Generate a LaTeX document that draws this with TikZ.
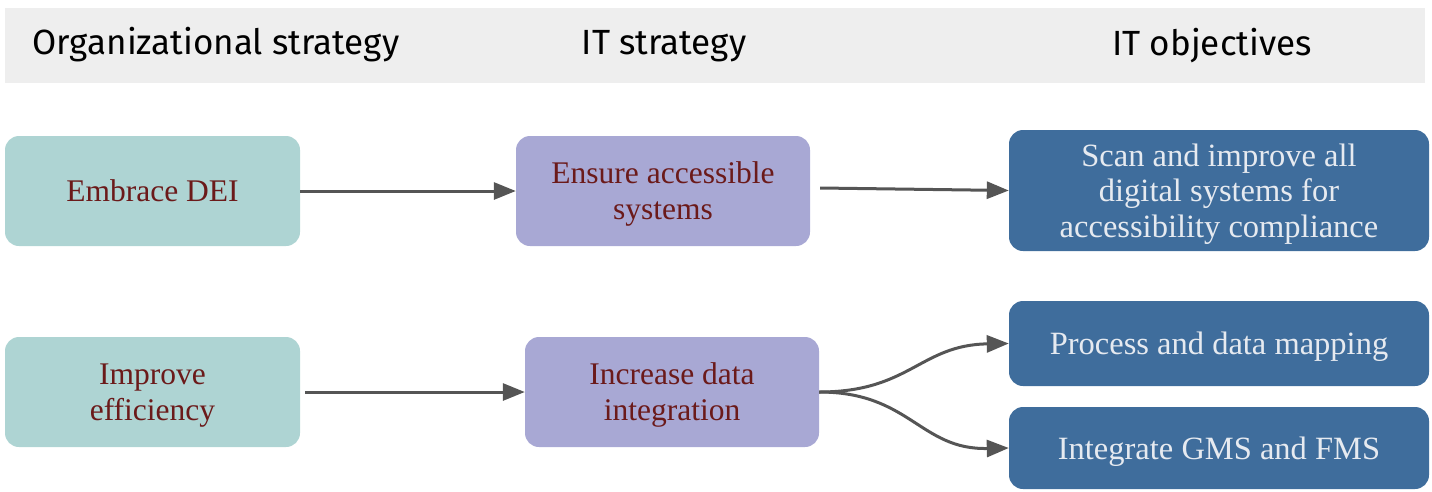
\documentclass[tikz,border=0pt]{standalone}
\usepackage{fontspec}
\setmainfont{Liberation Serif}
\newfontfamily\hdrfont{Fira Sans}
\usetikzlibrary{arrows.meta}
\definecolor{hdrbg}{HTML}{EEEEEE}
\definecolor{teal}{HTML}{AED4D3}
\definecolor{lav}{HTML}{A8A8D4}
\definecolor{blu}{HTML}{3F6D9C}
\definecolor{darkred}{HTML}{6B1A1A}
\definecolor{lighttxt}{HTML}{E6EAF0}
\definecolor{arr}{HTML}{555555}
\tikzset{
  x=1pt,y=-1pt,
  box/.style={rounded corners=14pt,inner sep=0pt,align=center,text depth=0pt,font=\fontsize{31.5}{36}\selectfont},
  orgbox/.style={box,fill=teal,text=darkred},
  itbox/.style={box,fill=lav,text=darkred},
  objbox/.style={box,fill=blu,text=lighttxt,font=\fontsize{32.5}{35.5}\selectfont},
  hdr/.style={font=\hdrfont\fontsize{35}{40}\selectfont,text=black,inner sep=0pt},
  conn/.style={draw=arr,line width=3pt,-{Triangle[length=22pt,width=17pt]}}
}
\begin{document}
\begin{tikzpicture}
\useasboundingbox (0,0) rectangle (1432,491);
\fill[hdrbg] (5,8) rectangle (1425,83);
\node[hdr] (h1) at (216,45) {Organizational strategy};
\node[hdr] (h2) at (664,46) {IT strategy};
\node[hdr] (h3) at (1212,46) {IT objectives};

\node[orgbox,minimum width=295pt,minimum height=110pt] (dei) at (152.5,191) {Embrace DEI};
\node[itbox,minimum width=294pt,minimum height=110pt] (acc) at (663,191) {Ensure accessible\\systems};
\node[objbox,minimum width=420pt,minimum height=121pt] (scan) at (1219,190.5) {Scan and improve all\\digital systems for\\accessibility compliance};

\node[orgbox,minimum width=295pt,minimum height=110pt] (eff) at (152.5,392) {Improve\\efficiency};
\node[itbox,minimum width=294pt,minimum height=110pt] (int) at (672,392) {Increase data\\integration};
\node[objbox,minimum width=420pt,minimum height=85pt] (map) at (1219,343.5) {Process and data mapping};
\node[objbox,minimum width=420pt,minimum height=82pt] (gms) at (1219,448) {Integrate GMS and FMS};

\draw[conn] (dei.east) -- (acc.west);
\draw[conn] (acc.east) ++(10,-3) coordinate (a1) -- (scan.west);
\draw[conn] (eff.east) ++(5,0) -- (int.west);
\draw[conn] (int.east) .. controls (910,392) and (920,345) .. (map.west);
\draw[conn] (int.east) .. controls (910,392) and (920,450) .. (gms.west);
\end{tikzpicture}
\end{document}
